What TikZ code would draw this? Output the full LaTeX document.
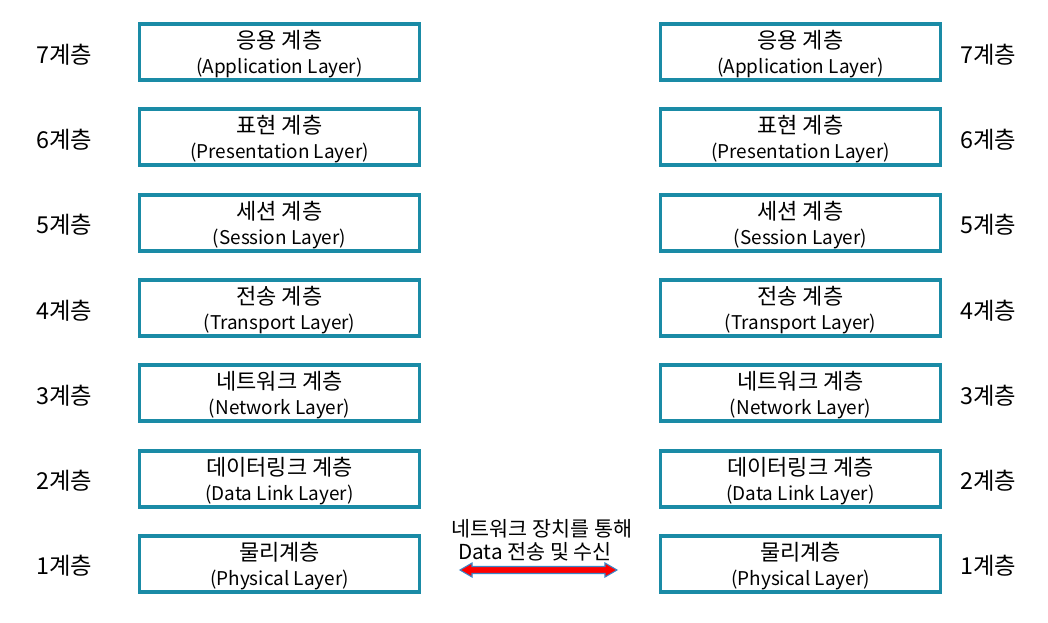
\documentclass[tikz,border=0pt]{standalone}
\usepackage{fontspec}
\setmainfont{Noto Sans CJK KR}
\usepackage{tikz}
\usetikzlibrary{calc}
\usetikzlibrary{positioning}

\definecolor{layerteal}{HTML}{1A8BA6}
\definecolor{arrowblue}{HTML}{3A86C8}

\tikzset{
    layerbox/.style={draw=layerteal, line width=2.3pt, fill=white, minimum width=210.5pt, minimum height=42pt, inner sep=0pt, align=center, font=\fontsize{16.5}{20}\selectfont},
    levellabel/.style={font=\fontsize{17.5}{20}\selectfont},
    midtext/.style={font=\fontsize{15.5}{18}\selectfont}
}
\newcommand{\layername}[2]{\rule{0pt}{17pt}#1\\[-0.75pt]{\fontsize{14.2}{16}\selectfont #2}}

\begin{document}
\begin{tikzpicture}[x=0.75pt, y=-0.75pt]
    \useasboundingbox[fill=white] (0,0) rectangle (1048,622);

    % left stack
    \node[layerbox] (L7) at (279.5, 52) {\layername{응용 계층}{(Application Layer)}};
    \node[layerbox] (L6) at (279.5, 137) {\layername{표현 계층}{(Presentation Layer)}};
    \node[layerbox] (L5) at (279.5, 223) {\layername{세션 계층}{(Session Layer)}};
    \node[layerbox] (L4) at (279.5, 308) {\layername{전송 계층}{(Transport Layer)}};
    \node[layerbox] (L3) at (279.5, 393) {\layername{네트워크 계층}{(Network Layer)}};
    \node[layerbox] (L2) at (279.5, 479) {\layername{데이터링크 계층}{(Data Link Layer)}};
    \node[layerbox] (L1) at (279.5, 564) {\layername{물리계층}{(Physical Layer)}};

    \node[levellabel] (nl7) at (64, 55) {7계층};
    \node[levellabel] (nl6) at (64, 140) {6계층};
    \node[levellabel] (nl5) at (64, 225) {5계층};
    \node[levellabel] (nl4) at (64, 311) {4계층};
    \node[levellabel] (nl3) at (64, 396) {3계층};
    \node[levellabel] (nl2) at (64, 481) {2계층};
    \node[levellabel] (nl1) at (64, 566) {1계층};

    % right stack
    \node[layerbox] (R7) at (800.5, 52) {\layername{응용 계층}{(Application Layer)}};
    \node[layerbox] (R6) at (800.5, 137) {\layername{표현 계층}{(Presentation Layer)}};
    \node[layerbox] (R5) at (800.5, 223) {\layername{세션 계층}{(Session Layer)}};
    \node[layerbox] (R4) at (800.5, 308) {\layername{전송 계층}{(Transport Layer)}};
    \node[layerbox] (R3) at (800.5, 393) {\layername{네트워크 계층}{(Network Layer)}};
    \node[layerbox] (R2) at (800.5, 479) {\layername{데이터링크 계층}{(Data Link Layer)}};
    \node[layerbox] (R1) at (800.5, 564) {\layername{물리계층}{(Physical Layer)}};

    \node[levellabel] (nr7) at (988, 55) {7계층};
    \node[levellabel] (nr6) at (988, 140) {6계층};
    \node[levellabel] (nr5) at (988, 225) {5계층};
    \node[levellabel] (nr4) at (988, 311) {4계층};
    \node[levellabel] (nr3) at (988, 396) {3계층};
    \node[levellabel] (nr2) at (988, 481) {2계층};
    \node[levellabel] (nr1) at (988, 566) {1계층};

    % physical link
    \node[midtext] (via) at (542, 529) {네트워크 장치를 통해};
    \node[midtext] (data) at (535, 552) {Data 전송 및 수신};
    \coordinate (linkL) at (460, 570);
    \coordinate (linkR) at (617, 570);
    \draw[fill=red, draw=arrowblue, line width=0.8pt, line join=miter]
        (linkL) -- ($(linkL)+(12,-7)$) -- ($(linkL)+(12,-3.5)$) -- ($(linkR)+(-12,-3.5)$)
        -- ($(linkR)+(-12,-7)$) -- (linkR) -- ($(linkR)+(-12,7)$) -- ($(linkR)+(-12,3.5)$)
        -- ($(linkL)+(12,3.5)$) -- ($(linkL)+(12,7)$) -- cycle;
\end{tikzpicture}
\end{document}
